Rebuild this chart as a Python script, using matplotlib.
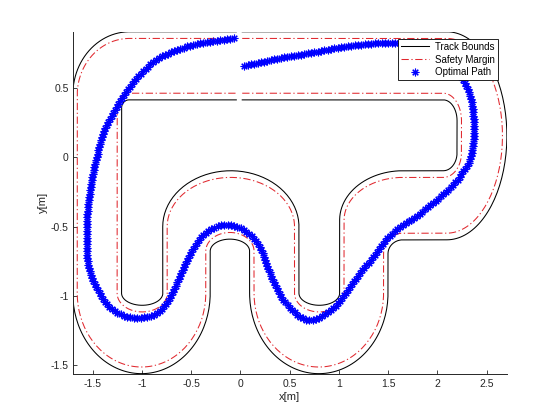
import numpy as np
import matplotlib
matplotlib.use('Agg')
import matplotlib.pyplot as plt

plt.rcParams['font.family'] = ['Liberation Sans', 'DejaVu Sans']
plt.rcParams['axes.unicode_minus'] = False

# axis range (tight on the track bounds)
x_lim = [-1.7, 2.706]
y_lim = [-1.561, 0.907]
x_ticks = [-1.5, -1, -0.5, 0, 0.5, 1, 1.5, 2, 2.5]
x_tick_labels = ['-1.5', '-1', '-0.5', '0', '0.5', '1', '1.5', '2', '2.5']
y_ticks = [-1.5, -1, -0.5, 0, 0.5]
y_tick_labels = ['-1.5', '-1', '-0.5', '0', '0.5']

# start / finish gap of the bounds
bound_start_x = 0.02
bound_end_x = -0.04

# track bounds as elliptical arcs joined by straights:
# (cx, cy, rx, ry, start deg, end deg, side)  side=+1 track inside arc, -1 outside
outer_arcs = [
    (2.097, 0.155, 0.61, 0.75, 90, -90, 1),
    (1.652, -0.695, 0.152, 0.10, 90, 180, -1),
    (0.7975, -0.98, 0.7025, 0.58, 0, -180, 1),
    (-0.105, -0.677, 0.20, 0.087, 0, 180, -1),
    (-1.0025, -0.98, 0.6975, 0.58, 0, -180, 1),
    (-1.125, 0.45, 0.575, 0.455, 180, 90, 1),
]
inner_arcs = [
    (2.061, 0.264, 0.14, 0.15, 90, 0, -1),
    (2.061, 0.033, 0.14, 0.13, 0, -90, -1),
    (1.65, -0.453, 0.641, 0.356, 90, 180, 1),
    (0.8025, -0.98, 0.2065, 0.087, 0, -180, -1),
    (-0.0955, -0.5, 0.6915, 0.403, 0, 180, 1),
    (-0.9955, -0.98, 0.2095, 0.087, 0, -180, -1),
    (-1.13, 0.354, 0.075, 0.06, 180, 90, -1),
]
# safety margin inset from the bounds
margin_dx = 0.045
margin_dy = 0.048

# optimal path waypoints
path_x = [0.04, 0.20, 0.40, 0.74, 1.08, 1.42, 1.62, 1.85, 2.05, 2.18,
          2.246, 2.313, 2.364, 2.37, 2.33, 2.262, 2.161, 1.992, 1.80, 1.585,
          1.449, 1.365, 1.212, 1.043, 0.874, 0.671, 0.467, 0.331, 0.196, 0.061,
          -0.10, -0.244, -0.380, -0.498, -0.600, -0.685, -0.752, -0.854, -1.023, -1.193,
          -1.328, -1.463, -1.539, -1.559, -1.549, -1.52, -1.481, -1.430, -1.379, -1.311,
          -1.244, -1.159, -1.023, -0.854, -0.685, -0.482, -0.278, -0.058]
path_y = [0.660, 0.684, 0.714, 0.756, 0.799, 0.824, 0.826, 0.815, 0.77, 0.67,
          0.571, 0.486, 0.33, 0.125, -0.020, -0.104, -0.200, -0.309, -0.418, -0.525,
          -0.621, -0.706, -0.838, -1.007, -1.127, -1.171, -1.055, -0.887, -0.646, -0.538,
          -0.489, -0.501, -0.561, -0.682, -0.838, -0.971, -1.055, -1.127, -1.156, -1.139,
          -1.079, -0.935, -0.790, -0.621, -0.381, -0.22, -0.068, 0.077, 0.197, 0.293,
          0.378, 0.474, 0.592, 0.703, 0.763, 0.811, 0.835, 0.860]


def bound_line(arcs, x0, x1, dx=0.0, dy=0.0):
    xs, ys = [], []
    for cx, cy, rx, ry, t0, t1, side in arcs:
        t = np.radians(np.linspace(t0, t1, 80))
        xs.append(cx + (rx - side * dx) * np.cos(t))
        ys.append(cy + (ry - side * dy) * np.sin(t))
    xs = np.concatenate(xs)
    ys = np.concatenate(ys)
    return np.r_[x0, xs, x1], np.r_[ys[0], ys, ys[-1]]


def smooth_path(px, py, n_sub=30):
    pts = np.column_stack([px, py])
    p = np.vstack([2 * pts[0] - pts[1], pts, 2 * pts[-1] - pts[-2]])
    s = np.linspace(0, 1, n_sub, endpoint=False)[:, None]
    out = []
    for i in range(1, len(p) - 2):
        p0, p1, p2, p3 = p[i - 1], p[i], p[i + 1], p[i + 2]
        out.append(0.5 * (2 * p1 + (-p0 + p2) * s + (2 * p0 - 5 * p1 + 4 * p2 - p3) * s ** 2
                          + (-p0 + 3 * p1 - 3 * p2 + p3) * s ** 3))
    out.append(pts[-1][None])
    return np.vstack(out)


fig = plt.figure(figsize=(5.6, 4.2), dpi=100)
ax = fig.add_axes([0.13, 0.11, 0.775, 0.815])

# marker positions: equal spacing in screen pixels along the path
curve = smooth_path(path_x, path_y)
px_per_x = 0.775 * 560 / (x_lim[1] - x_lim[0])
px_per_y = 0.815 * 420 / (y_lim[1] - y_lim[0])
seg = np.hypot(np.diff(curve[:, 0]) * px_per_x, np.diff(curve[:, 1]) * px_per_y)
dist = np.r_[0, np.cumsum(seg)]
d = np.arange(0, dist[-1], 3.4)
mx = np.interp(d, dist, curve[:, 0])
my = np.interp(d, dist, curve[:, 1])

red = '#e0282e'
ox, oy = bound_line(outer_arcs, bound_start_x, bound_end_x)
ix, iy = bound_line(inner_arcs, bound_start_x, bound_end_x)
ax.plot(ox, oy, color='black', lw=0.75, label='Track Bounds')
ax.plot(ix, iy, color='black', lw=0.75)
omx, omy = bound_line(outer_arcs, bound_start_x, bound_end_x, margin_dx, margin_dy)
imx, imy = bound_line(inner_arcs, bound_start_x, bound_end_x, margin_dx, margin_dy)
ax.plot(omx, omy, color=red, lw=0.75, dashes=(7, 2.5, 1.2, 2.5), label='Safety Margin')
ax.plot(imx, imy, color=red, lw=0.75, dashes=(7, 2.5, 1.2, 2.5))
ax.plot(mx, my, linestyle='none', marker=(8, 2, 0), markersize=5.5, markeredgewidth=0.8,
        color='#0000ff', label='Optimal Path')

ax.set_xlim(x_lim)
ax.set_ylim(y_lim)
ax.set_xticks(x_ticks)
ax.set_xticklabels(x_tick_labels)
ax.set_yticks(y_ticks)
ax.set_yticklabels(y_tick_labels)
for side in ['top', 'right']:
    ax.spines[side].set_visible(False)
for side in ['left', 'bottom']:
    ax.spines[side].set_color('#262626')
    ax.spines[side].set_linewidth(0.7)
ax.tick_params(direction='in', length=3, width=0.6, colors='#262626', labelsize=7.5)
ax.tick_params(axis='x', pad=4)
ax.tick_params(axis='y', pad=3)
ax.set_xlabel('x[m]', fontsize=8, color='#262626', labelpad=2)
ax.set_ylabel('y[m]', fontsize=8, color='#262626', labelpad=2)

leg = ax.legend(loc='upper right', bbox_to_anchor=(0.979, 0.979), borderaxespad=0,
                fontsize=7, fancybox=False, edgecolor='black', framealpha=1,
                handlelength=2.9, labelspacing=0.3, borderpad=0.3, handletextpad=0.6)
leg.get_frame().set_linewidth(0.6)

fig.savefig('out.png', dpi=100)
